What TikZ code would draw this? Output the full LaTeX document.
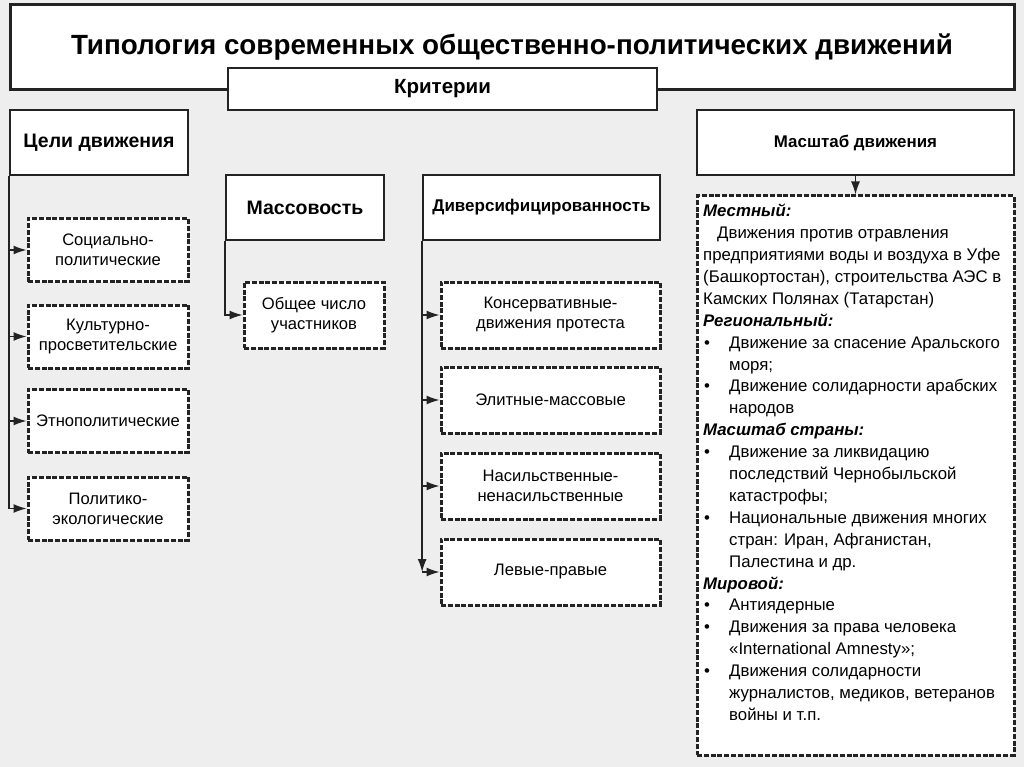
\documentclass[tikz,border=0pt]{standalone}
\usepackage{fontspec}
\setmainfont{Liberation Sans}
\usetikzlibrary{arrows.meta}
\definecolor{bggray}{RGB}{238,238,238}
\definecolor{linegray}{RGB}{35,35,35}
\tikzstyle{head}=[draw=linegray,fill=white,line width=1.7pt,inner sep=0pt,align=center,font=\bfseries]
\tikzstyle{kind}=[draw=linegray,fill=white,line width=3pt,dash pattern=on 5pt off 1.8pt,inner sep=0pt,align=center,font=\fontsize{16.6}{20}\selectfont]
\tikzstyle{link}=[line width=1.4pt,draw=linegray,-{Latex[length=13pt,width=9pt]}]
\newcommand{\hd}[1]{\textbf{\textit{#1}}}
\newcommand{\bul}{\makebox[26pt][l]{\hspace*{1pt}•}}
\newcommand{\ind}{\hspace*{26pt}}

\begin{document}
\begin{tikzpicture}[x=1pt,y=-1pt]
\fill[bggray] (0,0) rectangle (1024,767);
% headers
\node[head,line width=3pt,minimum width=1004pt,minimum height=85pt,font=\bfseries\fontsize{27.8}{32}\selectfont] at (512, 47.5) (title) {\raisebox{5pt}{Типология современных общественно-политических движений}};
\node[head,minimum width=429pt,minimum height=42pt,font=\bfseries\fontsize{20.5}{24}\selectfont] at (442.5, 89) (crit) {Критерии};
\node[head,minimum width=178pt,minimum height=65pt,font=\bfseries\fontsize{19.5}{22}\selectfont] at (99, 142.5) (goal) {Цели движения};
\node[head,minimum width=317pt,minimum height=65pt,font=\bfseries\fontsize{16.9}{20}\selectfont] at (855.5, 142.5) (scale) {Масштаб движения};
\node[head,minimum width=158pt,minimum height=65pt,font=\bfseries\fontsize{19.5}{22}\selectfont] at (305, 207.5) (mass) {Массовость};
\node[head,minimum width=237pt,minimum height=65pt,font=\bfseries\fontsize{17}{20}\selectfont] at (541.5, 207.5) (div) {Диверсифицированность};
% goals
\node[kind,minimum width=160pt,minimum height=63pt] at (108, 250) (soc) {Социально-\\политические};
\node[kind,minimum width=160pt,minimum height=63pt] at (108, 336.5) (cult) {Культурно-\\просветительские};
\node[kind,minimum width=160pt,minimum height=63pt] at (108, 421) (eth) {Этнополитические};
\node[kind,minimum width=160pt,minimum height=63pt] at (108, 508.5) (eco) {Политико-\\экологические};
% mass
\node[kind,minimum width=140pt,minimum height=66pt] at (314, 315) (total) {Общее число\\участников};
% diversity
\node[kind,minimum width=219pt,minimum height=66pt] at (550.5, 315) (cons) {Консервативные-\\движения протеста};
\node[kind,minimum width=219pt,minimum height=66pt] at (550.5, 400) (elite) {Элитные-массовые};
\node[kind,minimum width=219pt,minimum height=66pt] at (550.5, 486) (viol) {Насильственные-\\ненасильственные};
\node[kind,minimum width=219pt,minimum height=66pt] at (550.5, 572) (left) {Левые-правые};
% scale
\node[kind,minimum width=317pt,minimum height=559pt] at (855.5, 475.5) (big) {};
\node[anchor=north west,inner sep=0pt,align=left,font=\fontsize{16.8}{21.9}\selectfont] at (703, 204) (bigtext) {%
\hd{Местный:}\\
\hspace*{14pt}Движения против отравления\\
предприятиями воды и воздуха в Уфе\\
(Башкортостан), строительства АЭС в\\
Камских Полянах (Татарстан)\\
\hd{Региональный:}\\
\bul Движение за спасение Аральского\\
\ind моря;\\
\bul Движение солидарности арабских\\
\ind народов\\
\hd{Масштаб страны:}\\
\bul Движение за ликвидацию\\
\ind последствий Чернобыльской\\
\ind катастрофы;\\
\bul Национальные движения многих\\
\ind стран: Иран, Афганистан,\\
\ind Палестина и др.\\
\hd{Мировой:}\\
\bul Антиядерные\\
\bul Движения за права человека\\
\ind «International Amnesty»;\\
\bul Движения солидарности\\
\ind журналистов, медиков, ветеранов\\
\ind войны и т.п.};
% connectors
\draw[link] (goal.south west) |- (soc.west);
\draw[link] (goal.south west) |- (cult.west);
\draw[link] (goal.south west) |- (eth.west);
\draw[link] (goal.south west) |- (eco.west);
\draw[link] (mass.south west) |- (total.west);
\draw[link] (div.south west) |- (cons.west);
\draw[link] (div.south west) |- (elite.west);
\draw[link] (div.south west) |- (viol.west);
\draw[link] (div.south west) -- (div.south west |- left.west);
\draw[link] (div.south west |- left.west) -- (left.west);
\draw[link] (scale.south) -- (big.north);
\end{tikzpicture}
\end{document}
